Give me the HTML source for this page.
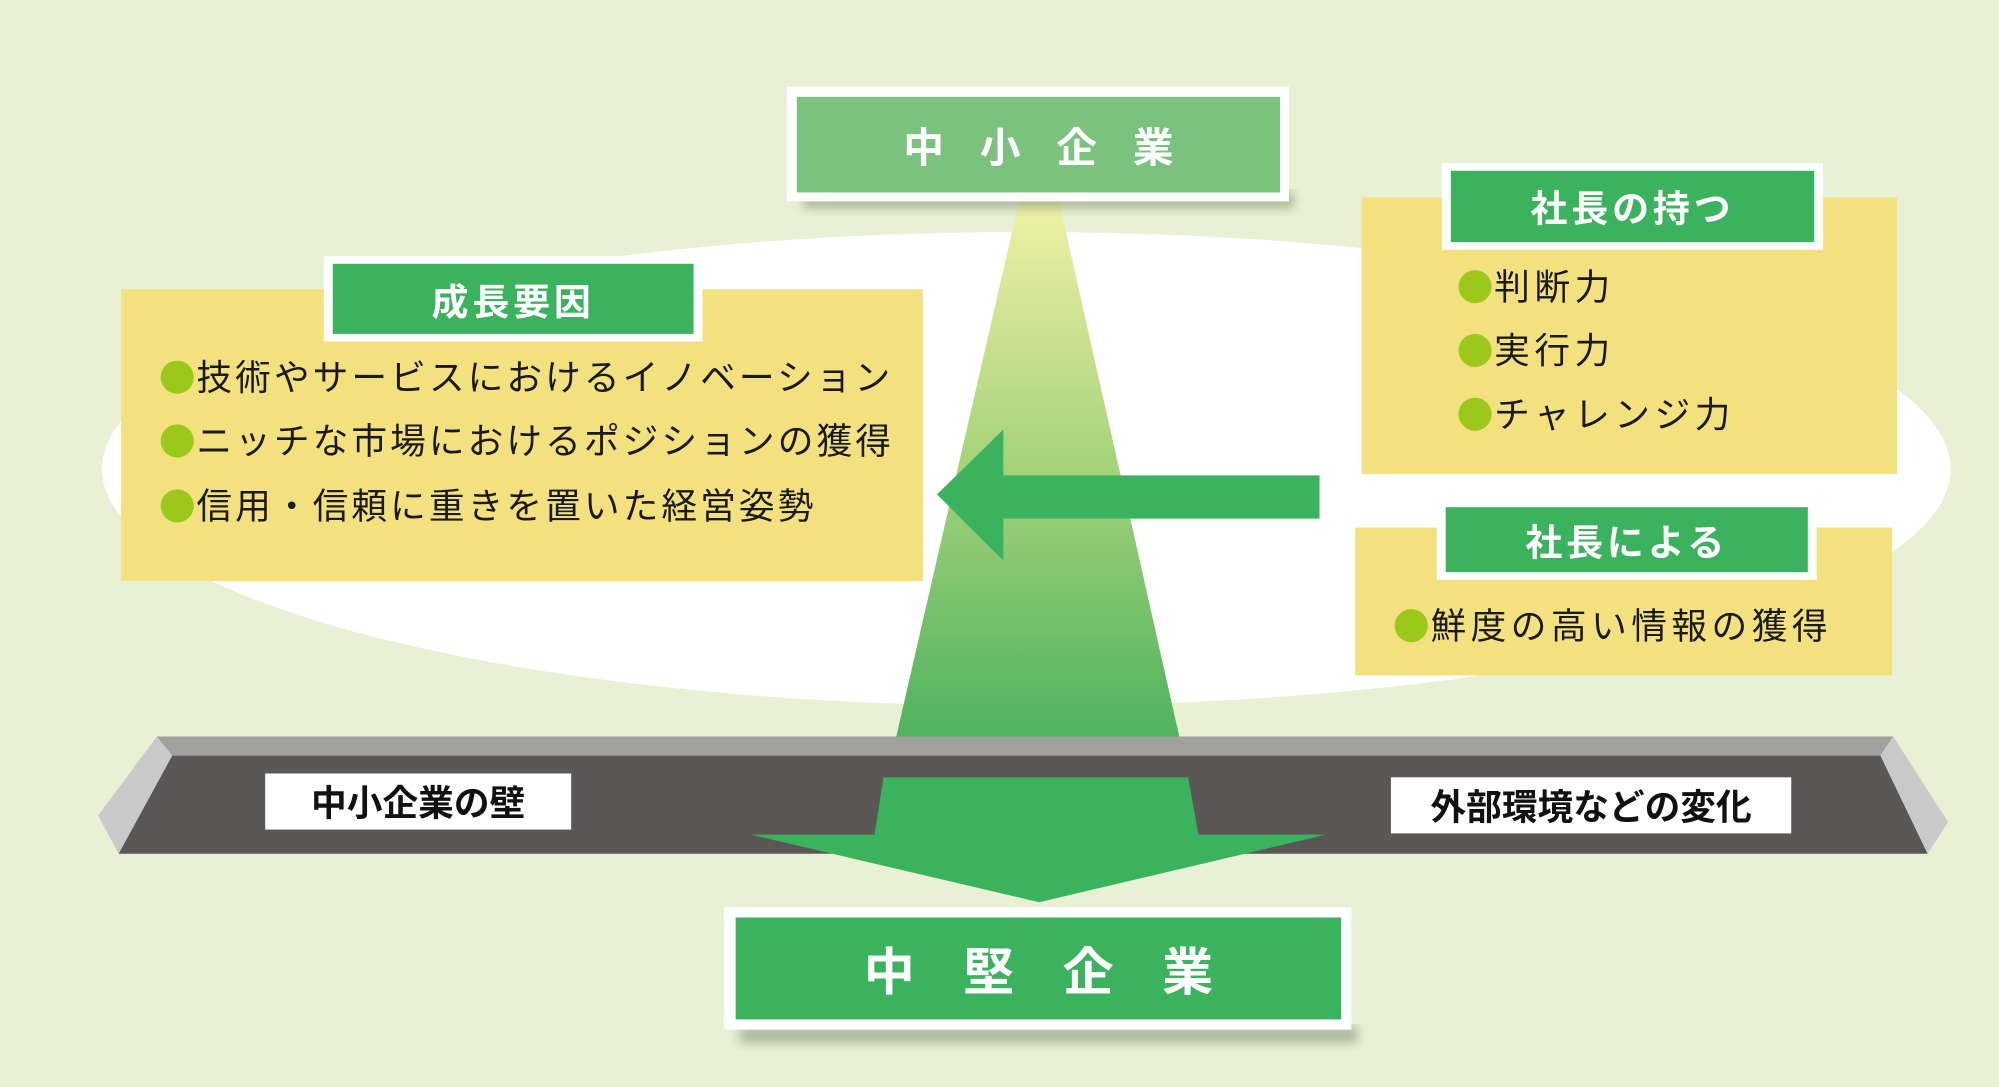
<!DOCTYPE html>
<html><head><meta charset="utf-8">
<style>
html,body{margin:0;padding:0;width:1999px;height:1087px;overflow:hidden;background:#e9f1d5;}
#w{position:absolute;left:0;top:0;width:1568px;height:853px;transform:scale(1.2749,1.2743);transform-origin:0 0;font-family:"Liberation Sans","Noto Sans CJK JP",sans-serif;}
.a{position:absolute;}
.ybox{position:absolute;background:#f3e17f;}
.tab{position:absolute;background:#fff;}
.tab div{position:absolute;left:7px;right:7px;top:6px;bottom:6px;background:#3bb25e;color:#fff;font-weight:bold;font-size:29px;display:flex;align-items:center;justify-content:center;letter-spacing:3px;}
.li{position:absolute;font-size:28px;color:#1a1a1a;white-space:nowrap;line-height:1;}
.li b{display:inline-block;width:26px;height:26px;border-radius:50%;background:#9cc71b;vertical-align:-3px;margin-right:2px;}
.lbl{position:absolute;background:#fff;color:#111;font-weight:bold;font-size:28px;display:flex;align-items:center;justify-content:center;}
</style></head><body>
<div id="w">
<svg class="a" style="left:0;top:0" width="1568" height="853">
 <defs>
  <linearGradient id="g" x1="0" y1="0" x2="0" y2="1">
   <stop offset="0" stop-color="#f1f2a6"/>
   <stop offset="0.5" stop-color="#a5d27a"/>
   <stop offset="1" stop-color="#4fb35f"/>
  </linearGradient>
  <filter id="sh" x="-10%" y="-10%" width="130%" height="150%"><feGaussianBlur stdDeviation="4"/></filter>
 </defs>
 <ellipse cx="805" cy="368" rx="725" ry="186" fill="#fff"/>
 <polygon points="800,155 830,155 925,578 703,578" fill="url(#g)"/>
 <polygon points="1035,373 787,373 787,337 735,388 787,440 787,407 1035,407" fill="#3bb25e"/>
 <polygon points="123,578 1485,578 1475,593 135,593" fill="#a0a09f"/>
 <polygon points="135,593 1475,593 1512,670 93,670" fill="#595857"/>
 <polygon points="123,578 135,593 93,670 77,640" fill="#c9c9c9"/>
 <polygon points="1485,578 1528,645 1512,670 1475,593" fill="#c9c9c9"/>
 <polygon points="693,610 932,610 940,655 1040,655 815,708 589,655 686,655" fill="#3bb25e"/>
 <rect x="630" y="150" width="385" height="14" fill="#8a9a7a" opacity="0.6" filter="url(#sh)"/>
 <rect x="580" y="805" width="485" height="14" fill="#8a9a7a" opacity="0.6" filter="url(#sh)"/>
</svg>

<div class="a" style="left:617px;top:68px;width:394px;height:90px;background:#fff;"></div>
<div class="a" style="left:625px;top:76px;width:379px;height:75px;background:#7bc27f;color:#fff;font-weight:bold;font-size:32px;display:flex;align-items:center;justify-content:center;letter-spacing:28px;text-indent:28px;">中小企業</div>

<div class="a" style="left:568px;top:712px;width:492px;height:96px;background:#fff;"></div>
<div class="a" style="left:577px;top:720px;width:475px;height:80px;background:#3bb25e;color:#fff;font-weight:bold;font-size:40px;display:flex;align-items:center;justify-content:center;letter-spacing:38px;text-indent:38px;">中堅企業</div>

<div class="ybox" style="left:95px;top:227px;width:629px;height:229px;"></div>
<div class="tab" style="left:254px;top:201px;width:297px;height:67px;"><div>成長要因</div></div>
<div class="li" style="left:126px;top:283px;letter-spacing:2.4px;"><b></b>技術やサービスにおけるイノベーション</div>
<div class="li" style="left:126px;top:333px;letter-spacing:2.4px;"><b></b>ニッチな市場におけるポジションの獲得</div>
<div class="li" style="left:126px;top:384px;letter-spacing:2.4px;"><b></b>信用・信頼に重きを置いた経営姿勢</div>

<div class="ybox" style="left:1068px;top:155px;width:420px;height:217px;"></div>
<div class="tab" style="left:1131px;top:128px;width:299px;height:68px;"><div>社長の持つ</div></div>
<div class="li" style="left:1144px;top:212px;letter-spacing:3.5px;"><b></b>判断力</div>
<div class="li" style="left:1144px;top:262px;letter-spacing:3.5px;"><b></b>実行力</div>
<div class="li" style="left:1144px;top:312px;letter-spacing:3.5px;"><b></b>チャレンジ力</div>

<div class="ybox" style="left:1063px;top:414px;width:421px;height:116px;"></div>
<div class="tab" style="left:1127px;top:392px;width:298px;height:63px;"><div>社長による</div></div>
<div class="li" style="left:1094px;top:478px;letter-spacing:3.5px;"><b></b>鮮度の高い情報の獲得</div>

<div class="lbl" style="left:208px;top:607px;width:240px;height:44px;">中小企業の壁</div>
<div class="lbl" style="left:1091px;top:610px;width:314px;height:44px;">外部環境などの変化</div>
</div>
</body></html>
